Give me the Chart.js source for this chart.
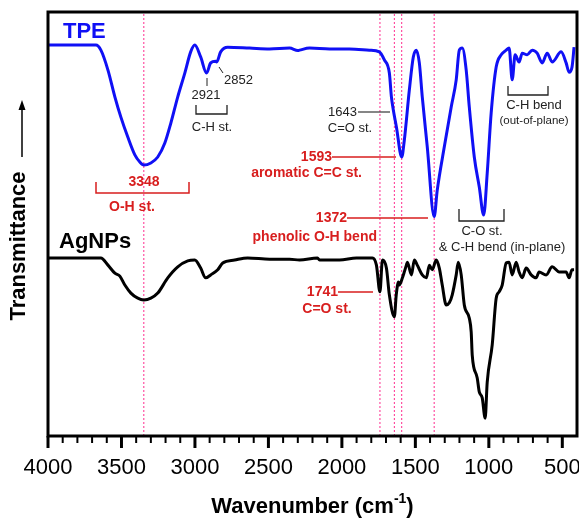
<!DOCTYPE html>
<html>
<head>
<meta charset="utf-8">
<script src="https://cdn.jsdelivr.net/npm/chart.js@4.4.1/dist/chart.umd.min.js"></script>
<style>
  html, body { margin: 0; padding: 0; background: #fff; }
  #wrap { width: 579px; height: 519px; }
</style>
</head>
<body>
<div id="wrap"><canvas id="ftir" width="579" height="519"></canvas></div>
<script>
// FTIR spectra (wavenumber in cm-1, transmittance in arbitrary offset units)
const tpeWn = [4000, 3851, 3674, 3640, 3592, 3545, 3504, 3457, 3409, 3375, 3348, 3300, 3253, 3205, 3164, 3117, 3069, 3029, 3001,
  2961, 2921, 2893, 2859, 2852, 2825, 2777, 2628, 2492, 2356, 2300, 2288, 2220, 2084, 1949, 1813, 1745, 1711, 1677, 1663, 1650,
  1629, 1593, 1575, 1541, 1514, 1493, 1473, 1453, 1419, 1372, 1351, 1303, 1256, 1222, 1201, 1181, 1154, 1133, 1099, 1065, 1035,
  1011, 984, 950, 916, 882, 862, 841, 821, 794, 773, 739, 705, 671, 637, 603, 569, 508, 474, 454, 434, 420];
const tpeT = [92.2, 92.2, 92.2, 91.0, 86.3, 80.0, 75.2, 70.5, 66.3, 64.6, 63.9, 64.4, 65.8, 69.1, 73.8, 80.0, 85.6, 90.6, 92.2,
  89.4, 85.6, 88.0, 88.4, 88.2, 90.6, 91.7, 91.5, 91.3, 91.5, 90.9, 91.0, 91.5, 91.3, 91.3, 91.0, 90.6, 88.7, 85.6, 80.0, 76.9,
  72.9, 65.8, 69.8, 81.6, 89.4, 91.0, 88.0, 80.0, 68.2, 51.7, 58.0, 68.2, 77.6, 84.0, 91.0, 91.5, 86.3, 77.6, 65.8, 58.7, 52.1,
  62.0, 76.2, 87.0, 89.9, 91.0, 91.5, 84.0, 89.9, 88.2, 90.3, 89.9, 91.0, 90.3, 88.0, 90.3, 88.2, 90.6, 88.0, 85.8, 87.0, 91.7];

const agWn = [4000, 3851, 3640, 3592, 3545, 3511, 3477, 3436, 3389, 3348, 3300, 3253, 3185, 3117, 3049, 3001, 2961, 2927, 2893,
  2845, 2811, 2730, 2641, 2492, 2356, 2288, 2166, 2152, 2016, 1901, 1792, 1765, 1741, 1724, 1697, 1677, 1643, 1630, 1615, 1609,
  1588, 1575, 1561, 1554, 1527, 1507, 1487, 1453, 1425, 1405, 1385, 1358, 1337, 1317, 1290, 1269, 1249, 1222, 1208, 1188, 1167,
  1133, 1120, 1113, 1079, 1065, 1045, 1025, 1011, 977, 950, 930, 909, 882, 862, 841, 814, 794, 773, 746, 712, 678, 658, 610,
  569, 522, 474, 454, 434, 420];
const agT = [42.0, 42.0, 42.0, 40.3, 38.4, 37.7, 35.6, 33.7, 32.5, 32.1, 32.5, 33.7, 37.3, 39.9, 41.3, 41.5, 39.6, 37.3, 38.0,
  39.2, 40.8, 41.5, 42.0, 41.7, 41.7, 41.5, 42.0, 41.5, 41.5, 42.0, 42.0, 40.3, 34.0, 41.5, 39.6, 33.3, 28.1, 33.3, 36.3, 35.6,
  37.3, 38.7, 40.3, 41.0, 38.0, 41.5, 40.3, 38.0, 37.3, 40.3, 39.2, 41.5, 39.6, 35.6, 30.9, 31.4, 33.3, 38.0, 41.0, 38.0, 30.9,
  27.8, 24.5, 19.1, 13.7, 10.4, 9.0, 4.2, 12.7, 21.5, 32.5, 34.0, 35.6, 40.8, 41.0, 38.0, 41.0, 38.7, 37.3, 39.6, 38.0, 37.3, 38.7, 38.0,
  39.9, 38.7, 38.7, 37.3, 39.2, 39.2];

// marked bands (dashed guides)
const markedWn = [3348, 1741, 1643, 1593, 1372];
const xTicks = [4000, 3500, 3000, 2500, 2000, 1500, 1000, 500];

const FONT = '"Liberation Sans", Arial, sans-serif';
const RED = '#d81e1e';
const INK = '#222';
const BLUE = '#1010f5';

function toPoints(xs, ys) {
  return xs.map((x, i) => ({ x: x, y: ys[i] }));
}

const guideSets = markedWn.map(w => ({
  data: [{ x: w, y: 0 }, { x: w, y: 100 }],
  borderColor: '#ff2d8f',
  borderWidth: 1,
  borderDash: [2, 2],
  pointRadius: 0,
  order: 3
}));

// texts, brackets and frame
const decor = {
  id: 'decor',
  afterDraw(chart) {
    const ctx = chart.ctx, a = chart.chartArea, xs = chart.scales.x;
    ctx.save();

    // frame
    ctx.strokeStyle = '#000';
    ctx.lineWidth = 3;
    ctx.strokeRect(a.left, a.top, a.right - a.left, a.bottom - a.top);

    // tick marks (major every 500, minor every 100)
    for (let v = 500; v <= 4000; v += 100) {
      const px = xs.getPixelForValue(v);
      const major = v % 500 === 0;
      ctx.lineWidth = major ? 3 : 2;
      ctx.beginPath();
      ctx.moveTo(px, a.bottom);
      ctx.lineTo(px, a.bottom + (major ? 12 : 7));
      ctx.stroke();
    }

    function text(s, x, y, font, color, align) {
      ctx.font = font;
      ctx.fillStyle = color;
      ctx.textAlign = align || 'center';
      ctx.textBaseline = 'middle';
      ctx.fillText(s, x, y);
    }
    function poly(pts, color, w) {
      ctx.strokeStyle = color;
      ctx.lineWidth = w;
      ctx.beginPath();
      pts.forEach((p, i) => i ? ctx.lineTo(p[0], p[1]) : ctx.moveTo(p[0], p[1]));
      ctx.stroke();
    }

    const small = '13px ' + FONT;
    const redB = 'bold 14px ' + FONT;

    text('TPE', 63, 32, 'bold 22px ' + FONT, BLUE, 'left');
    text('AgNPs', 59, 242, 'bold 22px ' + FONT, '#000', 'left');

    text('2921', 206, 95, small, INK);
    poly([[207, 78], [207, 86]], INK, 1);
    text('2852', 224, 80, small, INK, 'left');
    poly([[219, 67], [223, 73]], INK, 1);
    poly([[196, 105], [196, 114], [227, 114], [227, 105]], INK, 1.3);
    text('C-H st.', 212, 127, small, INK);

    text('3348', 144, 182, redB, RED);
    poly([[96, 182], [96, 193], [189, 193], [189, 182]], RED, 1.5);
    text('O-H st.', 132, 207, redB, RED);

    text('1643', 357, 112, small, INK, 'right');
    poly([[358, 112], [390, 112]], '#444', 1.3);
    text('C=O st.', 350, 128, small, INK);

    text('1593', 332, 157, redB, RED, 'right');
    poly([[332, 157], [396, 157]], RED, 1.3);
    text('aromatic C=C st.', 362, 173, redB, RED, 'right');

    text('1372', 347, 218, redB, RED, 'right');
    poly([[347, 218], [428, 218]], RED, 1.3);
    text('phenolic O-H bend', 377, 237, redB, RED, 'right');

    poly([[508, 86], [508, 95], [548, 95], [548, 86]], INK, 1.3);
    text('C-H bend', 534, 105, small, INK);
    text('(out-of-plane)', 534, 121, '11.5px ' + FONT, INK);

    poly([[459, 209], [459, 221], [504, 221], [504, 209]], INK, 1.3);
    text('C-O st.', 482, 231, small, INK);
    text('& C-H bend (in-plane)', 502, 247, small, INK);

    text('1741', 338, 292, redB, RED, 'right');
    poly([[338, 292], [373, 292]], RED, 1.3);
    text('C=O st.', 327, 309, redB, RED);

    // x title with superscript
    const cx = (a.left + a.right) / 2;
    ctx.font = 'bold 22px ' + FONT;
    const p1 = 'Wavenumber (cm', p3 = ')';
    const w1 = ctx.measureText(p1).width, w3 = ctx.measureText(p3).width;
    ctx.font = 'bold 14px ' + FONT;
    const w2 = ctx.measureText('-1').width;
    let x0 = cx - (w1 + w2 + w3) / 2;
    text(p1, x0, 507, 'bold 22px ' + FONT, '#000', 'left');
    text('-1', x0 + w1, 499, 'bold 14px ' + FONT, '#000', 'left');
    text(p3, x0 + w1 + w2, 507, 'bold 22px ' + FONT, '#000', 'left');

    // y title with arrow
    ctx.save();
    ctx.translate(19, 246);
    ctx.rotate(-Math.PI / 2);
    text('Transmittance', 0, 0, 'bold 22px ' + FONT, '#000');
    ctx.restore();
    poly([[22, 157], [22, 108]], '#000', 1.5);
    ctx.fillStyle = '#000';
    ctx.beginPath();
    ctx.moveTo(22, 100);
    ctx.lineTo(18.5, 110);
    ctx.lineTo(25.5, 110);
    ctx.closePath();
    ctx.fill();

    ctx.restore();
  }
};

new Chart(document.getElementById('ftir'), {
  type: 'line',
  data: {
    datasets: [
      {
        label: 'TPE',
        data: toPoints(tpeWn, tpeT),
        borderColor: BLUE,
        borderWidth: 3,
        pointRadius: 0,
        cubicInterpolationMode: 'monotone',
        order: 1
      },
      {
        label: 'AgNPs',
        data: toPoints(agWn, agT),
        borderColor: '#000',
        borderWidth: 3,
        pointRadius: 0,
        cubicInterpolationMode: 'monotone',
        order: 1
      }
    ].concat(guideSets)
  },
  options: {
    responsive: false,
    animation: false,
    layout: { padding: { left: 48, right: 2, top: 12, bottom: 0 } },
    plugins: { legend: { display: false }, tooltip: { enabled: false } },
    scales: {
      x: {
        type: 'linear',
        reverse: true,
        min: 400,
        max: 4000,
        afterBuildTicks: s => { s.ticks = xTicks.map(v => ({ value: v })); },
        afterFit: s => { s.height = 83; s.paddingLeft = 0; s.paddingRight = 0; },
        grid: { display: false, drawTicks: false, tickLength: 0 },
        border: { display: false },
        ticks: {
          padding: 19,
          maxRotation: 0,
          autoSkip: false,
          color: '#000',
          font: { family: FONT, size: 22 },
          callback: v => String(v)
        }
      },
      y: {
        display: false,
        min: 0,
        max: 100
      }
    }
  },
  plugins: [decor]
});
</script>
</body>
</html>
